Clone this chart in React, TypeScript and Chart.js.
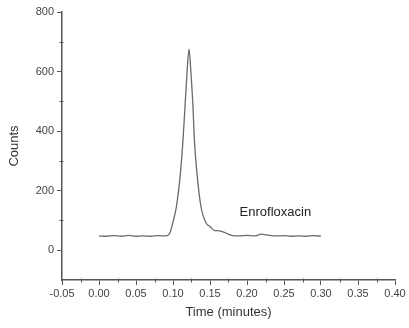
import React, { useEffect, useRef } from "react";
import { Chart, registerables } from "chart.js";

Chart.register(...registerables);

const times = [0.000, 0.010, 0.020, 0.030, 0.040, 0.050, 0.060, 0.070, 0.080, 0.090, 0.0955, 0.100, 0.1046, 0.110, 0.1135, 0.1162, 0.1189, 0.1216, 0.1243, 0.127, 0.1289, 0.1324, 0.1378, 0.1451, 0.150, 0.1564, 0.1610, 0.1654, 0.1722, 0.1789, 0.190, 0.200, 0.210, 0.2195, 0.230, 0.240, 0.250, 0.260, 0.270, 0.280, 0.290, 0.300];
const counts = [48, 47, 49, 47, 50, 47, 48, 47, 49, 48, 56, 95, 146, 258, 370, 482, 594, 675, 594, 482, 370, 258, 146, 90, 80, 66, 66, 63, 57, 50, 48, 50, 48, 54, 50, 48, 49, 47, 48, 47, 49, 47];

const xMajorTicks = [-0.05, 0.0, 0.05, 0.1, 0.15, 0.2, 0.25, 0.3, 0.35, 0.4];
const xMinorTicks = [-0.025, 0.025, 0.075, 0.125, 0.175, 0.225, 0.275, 0.325, 0.375];
const yMajorTicks = [0, 200, 400, 600, 800];
const yMinorTicks = [100, 300, 500, 700];

const peakLabel = "Enrofloxacin";
const peakLabelX = 0.19;
const peakLabelY = 128;

const FONT = "'Liberation Sans', Arial, sans-serif";
const AXIS_COLOR = "#555555";

export default function App() {
  const ref = useRef<HTMLCanvasElement | null>(null);

  useEffect(() => {
    document.body.style.margin = "0";
    const canvas = ref.current;
    if (!canvas) return;

    const minorPlugin = {
      id: "minorTicks",
      afterDraw(chart: any) {
        const { ctx, scales, chartArea } = chart;
        const xs = scales.x;
        const ys = scales.y;
        ctx.save();
        ctx.strokeStyle = AXIS_COLOR;
        ctx.lineWidth = 1;
        ctx.beginPath();
        xMinorTicks.forEach((v) => {
          const px = Math.round(xs.getPixelForValue(v)) + 0.5;
          ctx.moveTo(px, chartArea.bottom - 1.5);
          ctx.lineTo(px, chartArea.bottom + 2.5);
        });
        yMinorTicks.forEach((v) => {
          const py = Math.round(ys.getPixelForValue(v)) + 0.5;
          ctx.moveTo(chartArea.left - 2.5, py);
          ctx.lineTo(chartArea.left + 1.5, py);
        });
        ctx.stroke();
        // label
        ctx.fillStyle = "#222222";
        ctx.font = `13px ${FONT}`;
        ctx.textAlign = "left";
        ctx.textBaseline = "middle";
        ctx.fillText(peakLabel, xs.getPixelForValue(peakLabelX), ys.getPixelForValue(peakLabelY));
        ctx.restore();
      },
    };

    const chart = new Chart(canvas, {
      type: "line",
      data: {
        datasets: [
          {
            data: times.map((t, i) => ({ x: t, y: counts[i] })),
            borderColor: "#6a6a6a",
            borderWidth: 1.3,
            pointRadius: 0,
            fill: false,
            cubicInterpolationMode: "monotone",
          },
        ],
      },
      options: {
        animation: false,
        responsive: false,
        maintainAspectRatio: false,
        layout: { padding: { left: 0, right: 14, top: 12, bottom: 0 } },
        plugins: { legend: { display: false }, tooltip: { enabled: false } },
        scales: {
          x: {
            type: "linear",
            min: -0.05,
            max: 0.4,
            afterBuildTicks: (scale: any) => {
              scale.ticks = xMajorTicks.map((v) => ({ value: v }));
            },
            afterFit: (scale: any) => {
              scale.height = 48;
            },
            grid: {
              drawOnChartArea: false,
              drawTicks: true,
              tickLength: 5,
              tickColor: AXIS_COLOR,
              tickWidth: 1,
            },
            border: { display: true, color: AXIS_COLOR, width: 1.5 },
            ticks: {
              autoSkip: false,
              maxRotation: 0,
              padding: 2,
              color: "#444444",
              font: { family: FONT, size: 11 },
              callback: (v: any) => Number(v).toFixed(2),
            },
            title: {
              display: true,
              text: "Time (minutes)",
              color: "#333333",
              font: { family: FONT, size: 13 },
              padding: { top: 0, bottom: 8 },
            },
          },
          y: {
            type: "linear",
            min: -100,
            max: 800,
            afterBuildTicks: (scale: any) => {
              scale.ticks = yMajorTicks.map((v) => ({ value: v }));
            },
            afterFit: (scale: any) => {
              scale.width = 62;
            },
            grid: {
              drawOnChartArea: false,
              drawTicks: true,
              tickLength: 5,
              tickColor: AXIS_COLOR,
              tickWidth: 1,
            },
            border: { display: true, color: AXIS_COLOR, width: 1.5 },
            ticks: {
              autoSkip: false,
              padding: 3,
              color: "#444444",
              font: { family: FONT, size: 11 },
              callback: (v: any) => String(v),
            },
            title: {
              display: true,
              text: "Counts",
              color: "#333333",
              font: { family: FONT, size: 13 },
              padding: { top: 7, bottom: 0 },
            },
          },
        },
      },
      plugins: [minorPlugin],
    } as any);

    return () => chart.destroy();
  }, []);

  return (
    <div style={{ width: 409, height: 328, background: "#ffffff" }}>
      <canvas ref={ref} width={409} height={328} style={{ display: "block" }} />
    </div>
  );
}
